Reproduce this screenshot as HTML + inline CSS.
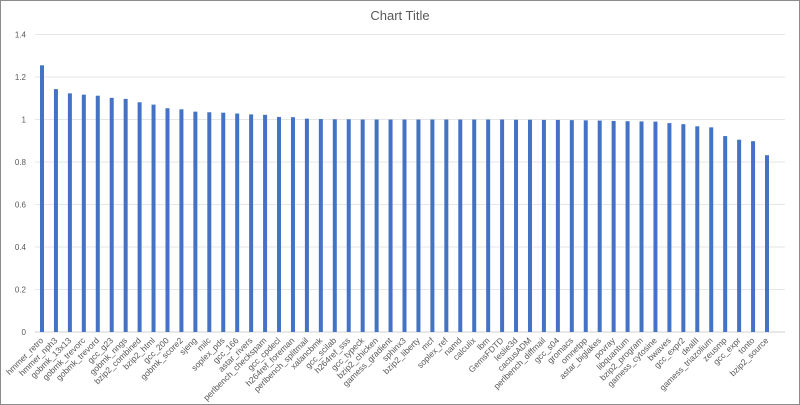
<!DOCTYPE html>
<html><head><meta charset="utf-8"><style>
html,body{margin:0;padding:0;background:#fff}
svg{display:block}
text{font-family:"Liberation Sans",sans-serif;fill:#595959}
</style></head><body>
<svg width="800" height="405" viewBox="0 0 800 405" xmlns="http://www.w3.org/2000/svg">
<rect x="0.5" y="0.5" width="799" height="404" fill="#fff" stroke="#8c8c8c"/>
<text x="400" y="20" font-size="13" text-anchor="middle">Chart Title</text>
<g id="g"></g>
</svg>
<script>
const labels="hmmer_retro,hmmer_nph3,gobmk_13x13,gobmk_trevorc,gobmk_trevord,gcc_g23,gobmk_nngs,bzip2_combined,bzip2_html,gcc_200,gobmk_score2,sjeng,milc,soplex_pds,gcc_166,astar_rivers,perlbench_checkspam,gcc_cpdecl,h264ref_foreman,perlbench_splitmail,xalancbmk,gcc_scilab,h264ref_sss,gcc_typeck,bzip2_chicken,gamess_gradient,sphinx3,bzip2_liberty,mcf,soplex_ref,namd,calculix,lbm,GemsFDTD,leslie3d,cactusADM,perlbench_diffmail,gcc_s04,gromacs,omnetpp,astar_biglakes,povray,libquantum,bzip2_program,gamess_cytosine,bwaves,gcc_expr2,dealII,gamess_triazolium,zeusmp,gcc_expr,tonto,bzip2_source".split(",");
const vals=[1.255,1.143,1.123,1.117,1.112,1.102,1.097,1.081,1.07,1.053,1.048,1.037,1.034,1.032,1.028,1.024,1.022,1.012,1.011,1.004,1.002,1.001,1.001,1.0,1.0,1.0,1.0,1.0,1.0,1.0,1.0,1.0,1.0,1.0,0.999,0.999,0.998,0.998,0.997,0.996,0.995,0.993,0.992,0.991,0.99,0.983,0.978,0.968,0.963,0.922,0.905,0.898,0.832];
const ns="http://www.w3.org/2000/svg",g=document.getElementById("g");
function el(t,a,txt){const e=document.createElementNS(ns,t);for(const k in a)e.setAttribute(k,a[k]);if(txt!=null)e.textContent=txt;g.appendChild(e);return e;}
const y0=332,sc=212.5,L=35,R=785;
for(let i=0;i<=7;i++){const v=i*0.2,y=y0-v*sc;
 el("line",{x1:L,x2:R,y1:y,y2:y,stroke:i==0?"#d0d0d0":"#e6e6e6","stroke-width":1});
 el("text",{x:26,y:y+3,"font-size":"8","text-anchor":"end"},i==0?"0":(i%5==0?String(v):v.toFixed(1)));}
const step=(767-42)/52;
vals.forEach((v,i)=>{const cx=42+i*step;
 el("rect",{x:cx-2,y:y0-v*sc,width:4,height:v*sc,fill:"#4472c4"});
 el("text",{x:cx+2,y:341,"font-size":"8.5","text-anchor":"end",transform:`rotate(-45 ${cx+2} 341)`},labels[i]);});
</script>
</body></html>
